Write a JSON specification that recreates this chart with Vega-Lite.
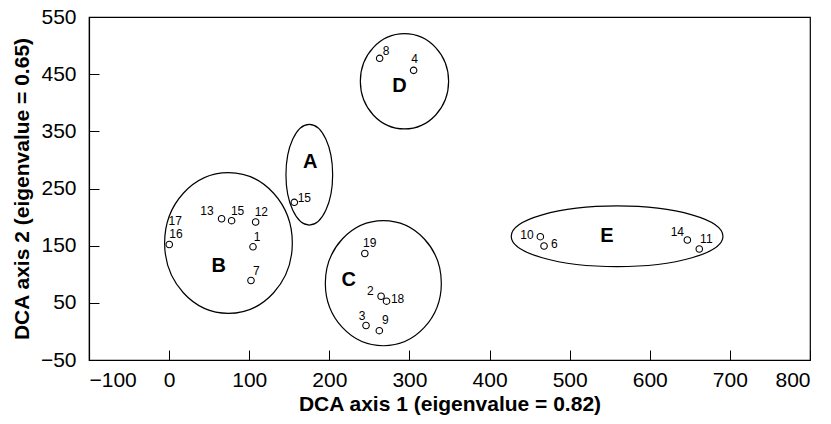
{
  "$schema": "https://vega.github.io/schema/vega-lite/v6.json",
  "autosize": "none",
  "width": 721,
  "height": 343,
  "padding": {"left": 89, "top": 17, "right": 21, "bottom": 64},
  "background": "white",
  "config": {
    "font": "Liberation Sans",
    "view": {"stroke": "black", "strokeWidth": 1.2},
    "axis": {
      "grid": false,
      "domainColor": "black",
      "domainWidth": 1.2,
      "tickColor": "black",
      "tickWidth": 1,
      "tickSize": -10,
      "labelColor": "black",
      "labelFont": "Liberation Sans",
      "labelFontSize": 21,
      "titleColor": "black",
      "titleFont": "Liberation Sans",
      "titleFontSize": 21,
      "titleFontWeight": "bold"
    }
  },
  "datasets": {
    "sites": [
      {"site": "1", "x": 104.7, "y": 148, "lx": 109.7, "ly": 164.6},
      {"site": "2", "x": 264.6, "y": 61.6, "lx": 251.1, "ly": 70.7},
      {"site": "3", "x": 245.8, "y": 10.3, "lx": 240.8, "ly": 27.5},
      {"site": "4", "x": 305.2, "y": 456.7, "lx": 306.4, "ly": 476.5},
      {"site": "6", "x": 468, "y": 149.4, "lx": 480.8, "ly": 152.9},
      {"site": "7", "x": 102.2, "y": 89, "lx": 108.8, "ly": 106.2},
      {"site": "8", "x": 262.8, "y": 477.7, "lx": 270.8, "ly": 491},
      {"site": "9", "x": 262.4, "y": 1.3, "lx": 269.9, "ly": 20},
      {"site": "10", "x": 463.4, "y": 165.7, "lx": 446.7, "ly": 168.1},
      {"site": "11", "x": 661.8, "y": 144.2, "lx": 670.6, "ly": 161.7},
      {"site": "12", "x": 108, "y": 191.4, "lx": 115.1, "ly": 209.4},
      {"site": "13", "x": 65.5, "y": 197, "lx": 47.3, "ly": 211.2},
      {"site": "14", "x": 646.9, "y": 159.9, "lx": 634.4, "ly": 173.9},
      {"site": "15", "x": 78, "y": 193.7, "lx": 85.5, "ly": 211.2},
      {"site": "15", "x": 156.3, "y": 225.8, "lx": 168.8, "ly": 233.9},
      {"site": "16", "x": 0.2, "y": 152, "lx": 8.6, "ly": 171},
      {"site": "17", "x": null, "y": null, "lx": 7.7, "ly": 193},
      {"site": "18", "x": 271.4, "y": 52.9, "lx": 285.2, "ly": 56.2},
      {"site": "19", "x": 244.3, "y": 136.3, "lx": 250.3, "ly": 155.2}
    ],
    "groups": [
      {"group": "A", "cx": 175, "cy": 274.1, "w": 58.3, "lx": 176.2, "ly": 296.9},
      {"group": "B", "cx": 74.1, "cy": 154.7, "w": 159.4, "lx": 61.8, "ly": 114.4},
      {"group": "C", "cx": 267.4, "cy": 84.3, "w": 144.8, "lx": 224.1, "ly": 89.9},
      {"group": "D", "cx": 293.8, "cy": 437.5, "w": 110.2, "lx": 287.7, "ly": 429.3},
      {"group": "E", "cx": 559.2, "cy": 166.4, "w": 264.3, "lx": 546.6, "ly": 166.9}
    ]
  },
  "layer": [
    {
      "data": {"name": "groups"},
      "mark": {"type": "point", "filled": false, "stroke": "black", "strokeWidth": 1.2, "opacity": 1},
      "encoding": {
        "x": {"field": "cx", "type": "quantitative", "scale": {"domain": [-100, 800], "nice": false, "zero": false},
              "axis": {"values": [-100, 0, 100, 200, 300, 400, 500, 600, 700, 800], "title": "DCA axis 1 (eigenvalue = 0.82)", "labelPadding": 19, "titlePadding": 3, "labelExpr": "replace(datum.label, '-', '\u2212')"}},
        "y": {"field": "cy", "type": "quantitative", "scale": {"domain": [-50, 550], "nice": false, "zero": false},
              "axis": {"values": [-50, 50, 150, 250, 350, 450, 550], "title": "DCA axis 2 (eigenvalue = 0.65)", "labelPadding": 23, "titlePadding": 8, "labelExpr": "replace(datum.label, '-', '\u2212')"}},
        "size": {"field": "w", "type": "quantitative", "legend": null,
                 "scale": {"type": "pow", "exponent": 2, "domain": [0, 900], "range": [0, 519841], "zero": true}},
        "shape": {"field": "group", "type": "nominal", "legend": null,
                  "scale": {"domain": ["A", "B", "C", "D", "E"],
                            "range": [
                              "M-1,0A1,2.156,0,1,0,1,0A1,2.156,0,1,0,-1,0Z",
                              "M-1,0A1,1.102,0,1,0,1,0A1,1.102,0,1,0,-1,0Z",
                              "M-1,0A1,1.078,0,1,0,1,0A1,1.078,0,1,0,-1,0Z",
                              "M-1,0A1,1.079,0,1,0,1,0A1,1.079,0,1,0,-1,0Z",
                              "M-1,0A1,0.287,0,1,0,1,0A1,0.287,0,1,0,-1,0Z"
                            ]}}
      }
    },
    {
      "data": {"name": "groups"},
      "mark": {"type": "text", "fontSize": 20, "fontWeight": "bold", "color": "black", "align": "center", "baseline": "middle"},
      "encoding": {
        "x": {"field": "lx", "type": "quantitative"},
        "y": {"field": "ly", "type": "quantitative"},
        "text": {"field": "group"}
      }
    },
    {
      "data": {"name": "sites"},
      "transform": [{"filter": "isValid(datum.x)"}],
      "mark": {"type": "point", "shape": "circle", "size": 42, "filled": false, "stroke": "black", "strokeWidth": 1.1, "opacity": 1},
      "encoding": {
        "x": {"field": "x", "type": "quantitative"},
        "y": {"field": "y", "type": "quantitative"}
      }
    },
    {
      "data": {"name": "sites"},
      "mark": {"type": "text", "fontSize": 12, "color": "black", "align": "center", "baseline": "middle"},
      "encoding": {
        "x": {"field": "lx", "type": "quantitative"},
        "y": {"field": "ly", "type": "quantitative"},
        "text": {"field": "site"}
      }
    }
  ]
}
